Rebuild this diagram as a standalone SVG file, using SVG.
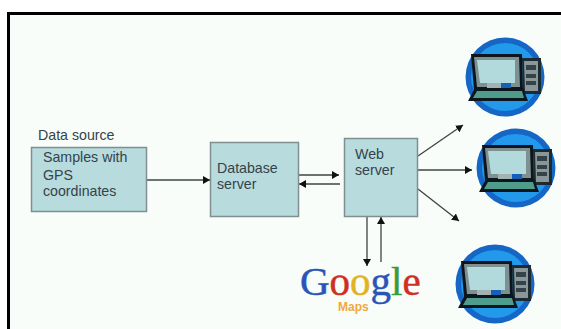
<svg xmlns="http://www.w3.org/2000/svg" xmlns:xlink="http://www.w3.org/1999/xlink" width="561" height="329" viewBox="0 0 561 329">
<style>
.box{fill:#b8dbde;stroke:#7f8f90;stroke-width:1.5}
.t{font-family:"Liberation Sans",Arial,sans-serif;font-size:14.200px;fill:#34434a}
.c{fill:none;stroke:#3c4446;stroke-width:1.300;marker-end:url(#a)}
.g{font-family:"Liberation Serif","Times New Roman",serif;font-size:41px;stroke-width:.5}
</style>
<defs>
<filter id="soft" x="-5%" y="-5%" width="110%" height="110%"><feGaussianBlur stdDeviation="0.5"/></filter>
<marker id="a" markerUnits="userSpaceOnUse" markerWidth="9" markerHeight="9" refX="7" refY="4" orient="auto"><path d="M0 0L7 4L0 8z" fill="#111"/></marker>
<g id="pc">
<circle cx="40" cy="40" r="39.500" fill="#1266c6"/>
<circle cx="40" cy="40" r="34" fill="#2099ea"/>
<path d="M6 17H57L58 53H9z" fill="#10181c"/>
<path d="M9 20H54L55 50H12z" fill="#7f9092"/>
<path d="M12 23H50V46H15z" fill="#b2dadc"/>
<path d="M57 21H76V57H58z" fill="#1c2a32"/>
<path d="M59 24H73V54H60z" fill="#8a9799"/>
<path d="M61 28H71V33H61zM61 37H71V41H61zM61 44H71V48H61z" fill="#36434a"/>
<path d="M22 46H42V52H22z" fill="#a4b2b4"/>
<path d="M36 46H46V52H36z" fill="#1560b8"/>
<path d="M10 51H58L63 64H3z" fill="#10181c"/>
<path d="M12 54H57L59 61H8z" fill="#4f9c8c"/>
</g>
</defs>
<rect width="561" height="329" fill="#fff"/>
<rect id="slide" x="10" y="15" width="551" height="314" fill="#f8fdfa"/>
<path id="frame" d="M8.500 329V13.500H561" fill="none" stroke="#000" stroke-width="3"/>
<g id="connectors">
<path class="c" d="M147 180H210"/>
<path class="c" d="M299 175H339"/>
<path class="c" d="M340 184H299"/>
<path class="c" d="M418 156L463 125"/>
<path class="c" d="M418 170H472"/>
<path class="c" d="M418 189L459 221"/>
<path class="c" d="M367 217V266"/>
<path class="c" d="M381 262V217"/>
</g>
<g id="data-source"><text class="t" x="38" y="140">Data source</text>
<rect class="box" x="31.500" y="147.500" width="115" height="64"/>
<text class="t" x="43" y="162">Samples with</text><text class="t" x="43" y="180">GPS</text><text class="t" x="43" y="196">coordinates</text></g>
<g id="database-server"><rect class="box" x="210.500" y="142.500" width="88" height="74"/>
<text class="t" x="217" y="173">Database</text><text class="t" x="217" y="189">server</text></g>
<g id="web-server"><rect class="box" x="344.500" y="138.500" width="73" height="78"/>
<text class="t" x="355" y="159">Web</text><text class="t" x="355" y="175">server</text></g>
<g id="google-maps">
<text class="g" y="295"><tspan x="300" fill="#2a55b8" stroke="#2a55b8">G</tspan><tspan fill="#cf2f22" stroke="#cf2f22">o</tspan><tspan fill="#e2b31e" stroke="#e2b31e">o</tspan><tspan fill="#2a55b8" stroke="#2a55b8">g</tspan><tspan fill="#3b9a3b" stroke="#3b9a3b">l</tspan><tspan fill="#cf2f22" stroke="#cf2f22">e</tspan></text>
<text x="338" y="311" font-family="Liberation Sans,Arial,sans-serif" font-size="12" font-weight="bold" fill="#f0a93a">Maps</text></g>
<g id="client-1" filter="url(#soft)"><use xlink:href="#pc" href="#pc" x="465" y="37"/></g>
<g id="client-2" filter="url(#soft)"><use xlink:href="#pc" href="#pc" x="476" y="128"/></g>
<g id="client-3" filter="url(#soft)"><use xlink:href="#pc" href="#pc" x="455" y="244"/></g>
</svg>
